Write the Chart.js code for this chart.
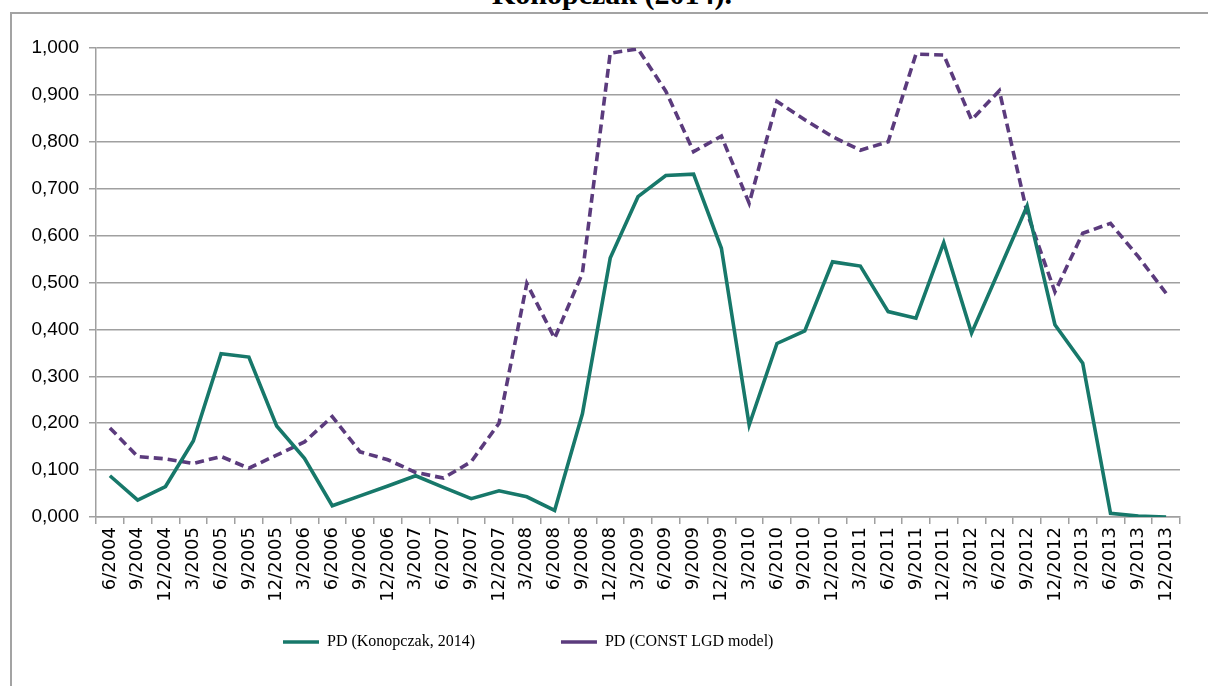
<!DOCTYPE html>
<html>
<head>
<meta charset="utf-8">
<script src="https://cdn.jsdelivr.net/npm/chart.js@4/dist/chart.umd.min.js"></script>
<style>
  html, body { margin: 0; padding: 0; background: #ffffff; width: 1208px; height: 686px; overflow: hidden; }
  #title { position: absolute; left: 8px; top: -21px; width: 1208px; text-align: center;
           font-family: "Liberation Serif", serif; font-weight: bold; font-size: 30px; line-height: 30px; color: #000; }
  #frame { position: absolute; left: 10px; top: 12px; width: 1260px; height: 720px; border: 2px solid #a3a3a3; }
  #wrap { position: absolute; left: 0; top: 0; width: 1208px; height: 686px; }
</style>
</head>
<body>
<div id="title">Konopczak (2014).</div>
<div id="frame"></div>
<div id="wrap"><canvas id="c" width="1208" height="686"></canvas></div>
<script>
const categories = ["6/2004","9/2004","12/2004","3/2005","6/2005","9/2005","12/2005","3/2006","6/2006","9/2006","12/2006","3/2007","6/2007","9/2007","12/2007","3/2008","6/2008","9/2008","12/2008","3/2009","6/2009","9/2009","12/2009","3/2010","6/2010","9/2010","12/2010","3/2011","6/2011","9/2011","12/2011","3/2012","6/2012","9/2012","12/2012","3/2013","6/2013","9/2013","12/2013"];
const pdKonopczak = [0.088,0.036,0.065,0.162,0.348,0.341,0.194,0.125,0.024,0.045,0.066,0.088,0.063,0.039,0.056,0.043,0.014,0.220,0.552,0.683,0.728,0.731,0.573,0.196,0.370,0.397,0.544,0.535,0.438,0.424,0.585,0.392,0.527,0.663,0.410,0.328,0.008,0.002,0.000];
const pdConstLgd = [0.190,0.129,0.124,0.114,0.129,0.104,0.132,0.160,0.214,0.139,0.122,0.095,0.083,0.118,0.200,0.498,0.381,0.520,0.989,0.998,0.908,0.779,0.812,0.669,0.886,0.847,0.811,0.782,0.800,0.987,0.985,0.847,0.909,0.648,0.480,0.605,0.626,0.555,0.477];
const seriesNames = ["PD (Konopczak, 2014)", "PD (CONST LGD model)"];
const yTickMin = 0, yTickMax = 1, yTickStep = 0.1;

// legend placement (layout only)
const legendStartX = 283;
const legendItemTop = 634;
const legendShift = {
  id: 'legendShift',
  afterLayout(chart) {
    const lg = chart.legend;
    if (!lg || !lg.lineWidths) return;
    const pad = lg.options.labels.padding;
    lg.top = legendItemTop - pad;
    lg.right = 2 * legendStartX - lg.left - pad + lg.lineWidths[0];
  }
};

const gridGray = '#a0a0a0';
new Chart(document.getElementById('c'), {
  type: 'line',
  data: {
    labels: categories,
    datasets: [
      { label: seriesNames[0], data: pdKonopczak, borderColor: '#17786a', backgroundColor: '#17786a',
        borderWidth: 3.6, pointRadius: 0, tension: 0, fill: false },
      { label: seriesNames[1], data: pdConstLgd, borderColor: '#5b3b7d', backgroundColor: '#5b3b7d',
        borderWidth: 3.6, borderDash: [9, 5], pointRadius: 0, tension: 0, fill: false }
    ]
  },
  options: {
    responsive: false,
    animation: false,
    layout: { padding: { top: 48, right: 28, left: 0, bottom: 25 } },
    plugins: {
      title: { display: false },
      tooltip: { enabled: false },
      legend: {
        position: 'bottom',
        align: 'center',
        maxHeight: 44,
        labels: {
          usePointStyle: true,
          pointStyle: 'line',
          pointStyleWidth: 36,
          padding: 86,
          color: '#000',
          font: { family: '"Liberation Serif", serif', size: 16 }
        }
      }
    },
    scales: {
      x: {
        type: 'category',
        offset: true,
        afterFit: (s) => { s.height = 100; },
        grid: { display: true, drawOnChartArea: false, drawTicks: true, tickLength: 7, offset: true, color: gridGray, lineWidth: 1.5 },
        border: { display: true, color: gridGray, width: 1.5 },
        ticks: { autoSkip: false, minRotation: 90, maxRotation: 90, padding: 3, color: '#000',
                 font: { family: '"DejaVu Sans", sans-serif', size: 18 } }
      },
      y: {
        min: yTickMin, max: yTickMax,
        afterFit: (s) => { s.width = 96; },
        grid: { color: gridGray, lineWidth: 1.5, drawTicks: true, tickLength: 7 },
        border: { display: true, color: gridGray, width: 1.5 },
        ticks: { stepSize: yTickStep, padding: 10, color: '#000',
                 font: { family: '"Liberation Sans", sans-serif', size: 19 },
                 callback: (v) => Number(v).toFixed(3).replace('.', ',') }
      }
    }
  },
  plugins: [legendShift]
});
</script>
</body>
</html>
